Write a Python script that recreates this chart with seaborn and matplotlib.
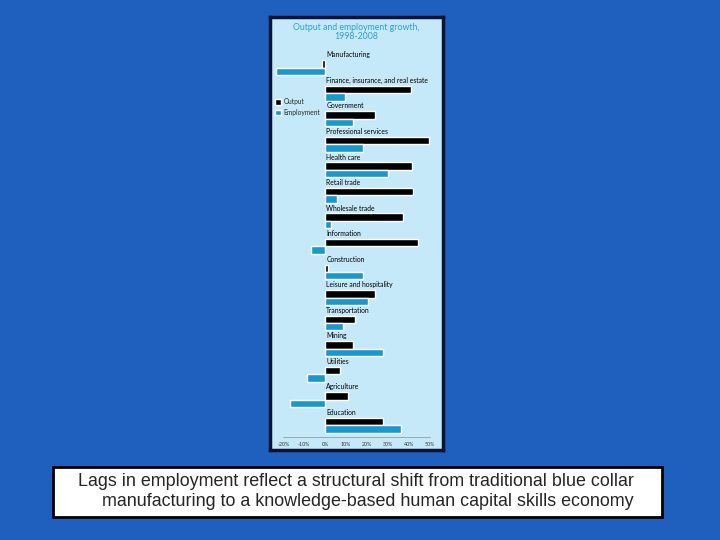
import matplotlib
matplotlib.use("Agg")
import matplotlib.pyplot as plt
from matplotlib.patches import Rectangle
import seaborn as sns
import pandas as pd

sectors = [
    "Manufacturing",
    "Finance, insurance, and real estate",
    "Government",
    "Professional services",
    "Health care",
    "Retail trade",
    "Wholesale trade",
    "Information",
    "Construction",
    "Leisure and hospitality",
    "Transportation",
    "Mining",
    "Utilities",
    "Agriculture",
    "Education",
]
output_growth = [-1.5, 41, 24, 49.5, 41.5, 42, 37, 44.5, 1.3, 24, 14.5, 13.5, 7, 11, 27.5]
employment_growth = [-23.5, 9.5, 13.5, 18, 30, 5.5, 3, -7, 18, 20.5, 8.5, 27.5, -8.5, -17, 36.5]
tick_values = [-20, -10, 0, 10, 20, 30, 40, 50]

BG = "#1f5fbd"
PANEL = "#c6e9f9"
EMP = "#1a97cd"
TITLE_C = "#2a9fd2"

df = pd.DataFrame({
    "sector": sectors * 2,
    "growth": output_growth + employment_growth,
    "series": ["Output"] * len(sectors) + ["Employment"] * len(sectors),
})

sns.set_style("white")
plt.rcParams["font.family"] = ["Lato", "DejaVu Sans"]

fig = plt.figure(figsize=(7.2, 5.4), dpi=100)
fig.patch.set_facecolor(BG)

W, H = 720, 540


def fig_rect(x0, y0, x1, y1):
    return [x0 / W, 1 - y1 / H, (x1 - x0) / W, (y1 - y0) / H]


# light blue panel
panel = fig.add_axes(fig_rect(270, 17, 443, 450))
panel.set_facecolor(PANEL)
panel.set_xticks([])
panel.set_yticks([])
for s in panel.spines.values():
    s.set_color("#0b1433")
    s.set_linewidth(2.5)

panel.text(0.5, 0.985, "Output and employment growth,\n1998-2008", transform=panel.transAxes,
           ha="center", va="top", fontsize=6.3, color=TITLE_C, linespacing=1.0)

# bar chart
ax = fig.add_axes(fig_rect(276, 40, 436, 437))
ax.patch.set_alpha(0)
sns.barplot(data=df, y="sector", x="growth", hue="series", orient="h",
            palette={"Output": "black", "Employment": EMP}, width=0.58,
            saturation=1, ax=ax, legend=True)
ax.set_xlim(-23.5, 53)
ax.set_ylim(14.46, -1.08)
ax.set_xlabel("")
ax.set_ylabel("")
ax.set_yticks([])
for p in ax.patches:
    p.set_clip_on(False)

for i, name in enumerate(sectors):
    ax.text(0.6, i - 0.5, name, fontsize=4.9, color="black", ha="left", va="center")

ax.set_xticks(tick_values)
ax.set_xticklabels([f"{v}%" for v in tick_values], fontsize=3.8, color="#333333")
ax.tick_params(axis="x", length=2, width=0.4, pad=1.5, color="#555555")
for side in ["top", "right", "left"]:
    ax.spines[side].set_visible(False)
ax.spines["bottom"].set_bounds(-20, 50)
ax.spines["bottom"].set_linewidth(0.4)
ax.spines["bottom"].set_color("#777777")

leg = ax.legend(loc="upper left", bbox_to_anchor=(-0.02, 0.86), frameon=False,
                fontsize=4.8, handlelength=0.9, handleheight=0.9, handletextpad=0.3,
                labelspacing=0.5, borderaxespad=0)

# caption box
fig.patches.append(Rectangle((53 / W, 1 - 517 / H), (662 - 53) / W, 50 / H,
                             transform=fig.transFigure, facecolor="white",
                             edgecolor="black", linewidth=2, zorder=1))
fig.text(78 / W, 1 - 481 / H,
         "Lags in employment reflect a structural shift from traditional blue collar",
         fontsize=12.9, family="Liberation Sans", va="center", ha="left", zorder=2)
fig.text(102 / W, 1 - 501 / H,
         "manufacturing to a knowledge-based human capital skills economy",
         fontsize=12.9, family="Liberation Sans", va="center", ha="left", zorder=2)

fig.savefig("out.png", dpi=100, facecolor=BG)
